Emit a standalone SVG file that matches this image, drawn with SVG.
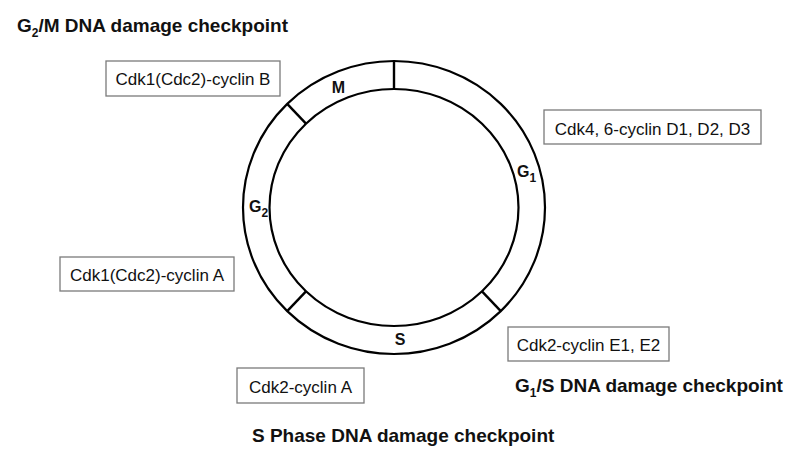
<svg xmlns="http://www.w3.org/2000/svg" width="800" height="467" viewBox="0 0 800 467">
<style>
.box{fill:#fff;stroke:#7a7a7a;stroke-width:1.3}
.bt{font-family:"Liberation Sans",Arial,sans-serif;font-size:17px;fill:#111}
.title{font-family:"Liberation Sans",Arial,sans-serif;font-size:19px;font-weight:bold;fill:#111}
.ph{font-family:"Liberation Sans",Arial,sans-serif;font-size:16px;font-weight:bold;fill:#111}
.ring{fill:none;stroke:#000;stroke-width:2.2}
.sub{font-size:12px}
</style>
<rect width="800" height="467" fill="#fff"/>
<g id="cycle">
<ellipse class="ring" cx="394" cy="207.5" rx="151" ry="146.5"/>
<ellipse class="ring" cx="394" cy="207.5" rx="124.5" ry="118.5"/>
</g>
<g id="connectors" stroke="#000" stroke-width="2.4">
<line x1="394" y1="61" x2="394" y2="89"/>
<line x1="287.2" y1="103.9" x2="306" y2="123.7"/>
<line x1="287.2" y1="311.1" x2="306" y2="291.3"/>
<line x1="500.8" y1="311.1" x2="482" y2="291.3"/>
</g>
<g id="phase-M"><text class="ph" x="338.5" y="93" text-anchor="middle" font-size="17">M</text></g>
<g id="phase-G1"><text class="ph" x="517" y="177">G<tspan class="sub" dy="5">1</tspan></text></g>
<g id="phase-G2"><text class="ph" x="249" y="212">G<tspan class="sub" dy="5">2</tspan></text></g>
<g id="phase-S"><text class="ph" x="400" y="345" text-anchor="middle">S</text></g>
<g id="title-g2m"><text class="title" x="17" y="32">G<tspan class="sub" font-size="13" dy="5">2</tspan><tspan dy="-5">/M DNA damage checkpoint</tspan></text></g>
<g id="title-g1s"><text class="title" x="515" y="392">G<tspan class="sub" font-size="13" dy="5">1</tspan><tspan dy="-5">/S DNA damage checkpoint</tspan></text></g>
<g id="title-s"><text class="title" x="252" y="442">S Phase DNA damage checkpoint</text></g>
<g id="box-cdk1-b"><rect class="box" x="106" y="61" width="174" height="35"/><text class="bt" x="193" y="85" text-anchor="middle">Cdk1(Cdc2)-cyclin B</text></g>
<g id="box-cdk4"><rect class="box" x="544" y="110" width="217" height="34"/><text class="bt" x="652.5" y="135" text-anchor="middle">Cdk4, 6-cyclin D1, D2, D3</text></g>
<g id="box-cdk1-a"><rect class="box" x="60" y="257" width="174" height="34"/><text class="bt" x="147" y="281" text-anchor="middle">Cdk1(Cdc2)-cyclin A</text></g>
<g id="box-cdk2-e"><rect class="box" x="508" y="327" width="161" height="34"/><text class="bt" x="588.5" y="351" text-anchor="middle">Cdk2-cyclin E1, E2</text></g>
<g id="box-cdk2-a"><rect class="box" x="237" y="368" width="127" height="35"/><text class="bt" x="300.5" y="393" text-anchor="middle">Cdk2-cyclin A</text></g>
</svg>
